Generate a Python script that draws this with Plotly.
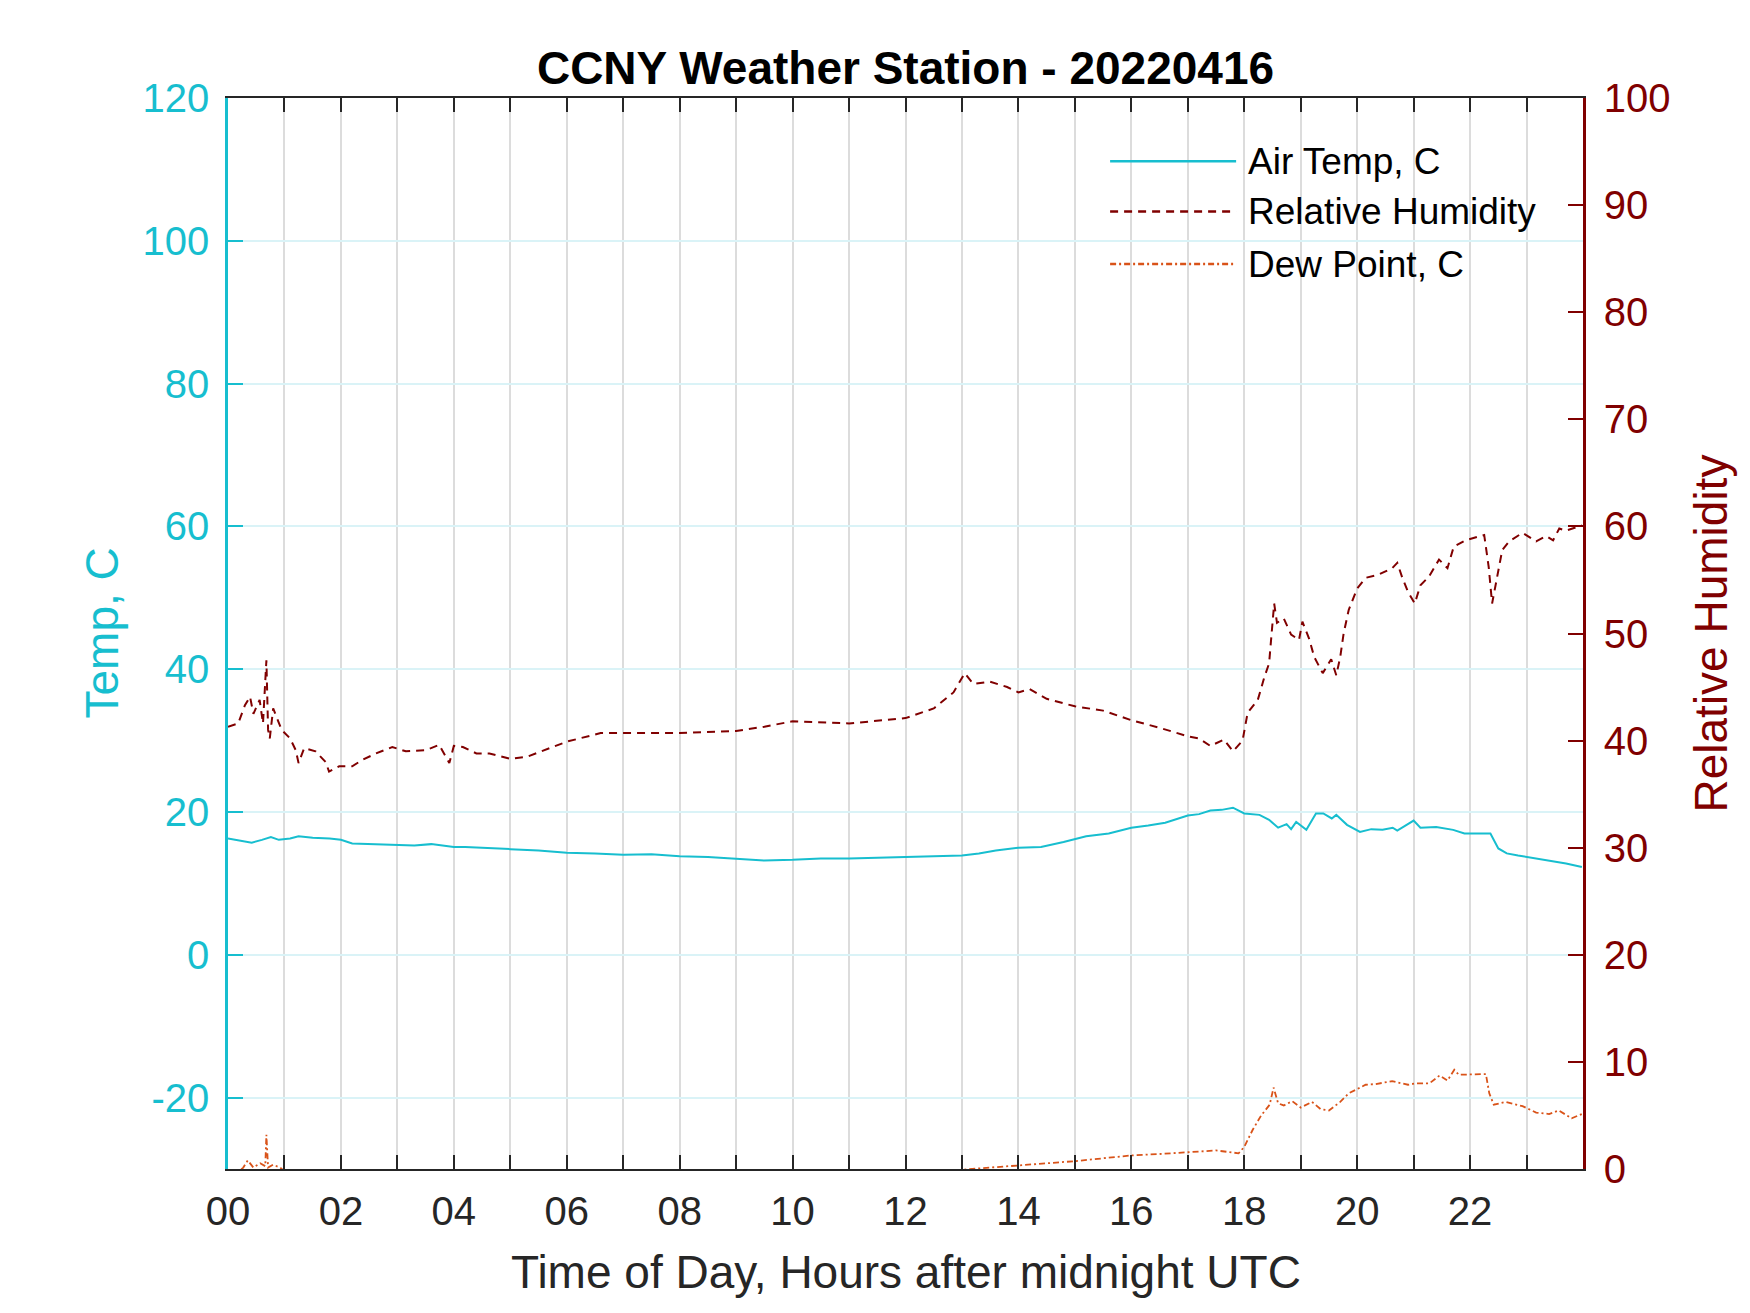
import plotly.graph_objects as go

# --- data (hours after midnight UTC) ---
temp_hours = [0.0, 0.2, 0.42, 0.6, 0.76, 0.9, 1.1, 1.25, 1.5, 1.8, 2.0, 2.2, 2.6,
              3.0, 3.3, 3.6, 4.0, 4.2, 4.6, 5.0, 5.5, 6.0, 6.5, 7.0, 7.5, 8.0, 8.5,
              9.0, 9.5, 10.0, 10.5, 11.0, 11.5, 12.0, 12.5, 13.0, 13.3, 13.6, 14.0,
              14.4, 14.8, 15.2, 15.6, 16.0, 16.3, 16.6, 17.0, 17.2, 17.4, 17.6, 17.8,
              18.0, 18.27, 18.44, 18.6, 18.75, 18.83, 18.92, 19.1, 19.27, 19.4, 19.5,
              19.55, 19.63, 19.7, 19.82, 20.05, 20.25, 20.45, 20.63, 20.71, 20.85,
              21.0, 21.12, 21.4, 21.7, 21.9, 22.1, 22.36, 22.5, 22.65, 22.85, 23.05,
              23.35, 23.7, 23.98]
air_temp = [16.3, 16.0, 15.7, 16.1, 16.5, 16.1, 16.3, 16.6, 16.4, 16.3, 16.1, 15.6, 15.5,
            15.4, 15.3, 15.5, 15.1, 15.1, 14.9, 14.8, 14.6, 14.3, 14.2, 14.0, 14.1, 13.8, 13.7,
            13.5, 13.2, 13.3, 13.5, 13.5, 13.6, 13.7, 13.9, 13.9, 14.2, 14.6, 15.0,
            15.1, 15.8, 16.6, 17.0, 17.8, 18.1, 18.5, 19.5, 19.7, 20.2, 20.3, 20.6,
            19.8, 19.6, 18.9, 17.8, 18.3, 17.6, 18.6, 17.5, 19.8, 19.8, 19.3,
            19.1, 19.6, 19.1, 18.2, 17.2, 17.6, 17.5, 17.8, 17.4, 18.1,
            18.8, 17.8, 17.9, 17.5, 17.0, 17.0, 17.0, 14.9, 14.2, 13.9, 13.65,
            13.3, 12.8, 12.3]

rh_hours = [0.0, 0.18, 0.3, 0.39, 0.45, 0.56, 0.62, 0.68, 0.71, 0.74, 0.8, 0.86, 0.95,
            1.1, 1.2, 1.25, 1.35, 1.55, 1.73, 1.79, 1.97, 2.2, 2.38, 2.62, 2.91, 3.15,
            3.5, 3.74, 3.92, 4.0, 4.16, 4.4, 4.63, 5.0, 5.3, 5.7, 6.0, 6.6, 7.0, 8.0,
            9.0, 9.5, 10.0, 11.0, 12.0, 12.5, 12.85, 13.05, 13.2, 13.5, 13.8, 14.0,
            14.2, 14.5, 15.0, 15.5, 16.0, 16.5, 17.0, 17.2, 17.4, 17.64, 17.8, 17.97,
            18.06, 18.24, 18.36, 18.44, 18.53, 18.58, 18.7, 18.83, 18.97, 19.03, 19.15,
            19.24, 19.39, 19.54, 19.63, 19.7, 19.76, 19.85, 20.0, 20.15, 20.38, 20.62,
            20.71, 20.8, 20.9, 21.02, 21.12, 21.27, 21.45, 21.6, 21.71, 21.92, 22.25,
            22.33, 22.39, 22.48, 22.57, 22.69, 22.93, 23.17, 23.35, 23.47, 23.58, 23.7,
            23.98]
rel_humidity = [41.3, 41.6, 43.3, 44.1, 42.5, 43.8, 41.6, 47.5, 41.0, 40.2, 43.0, 42.2, 41.0,
                40.2, 39.1, 37.9, 39.3, 39.0, 38.0, 37.1, 37.6, 37.6, 38.2, 38.8, 39.4, 39.0,
                39.1, 39.6, 37.9, 39.5, 39.4, 38.8, 38.8, 38.3, 38.5, 39.3, 39.9, 40.7, 40.7, 40.7,
                40.9, 41.3, 41.8, 41.6, 42.1, 43.0, 44.5, 46.3, 45.3, 45.5, 45.0, 44.5,
                44.8, 43.9, 43.2, 42.8, 41.9, 41.2, 40.4, 40.2, 39.5, 40.1, 39.0, 40.0,
                42.6, 43.8, 46.0, 47.2, 52.8, 51.0, 51.4, 49.9, 49.4, 51.1, 49.5,
                47.8, 46.3, 47.6, 46.1, 47.8, 50.0, 52.2, 54.2, 55.2, 55.5, 56.1,
                56.6, 55.2, 53.9, 52.8, 54.5, 55.3, 56.9, 56.1, 58.1, 58.7, 59.2,
                56.2, 52.8, 55.3, 57.8, 58.6, 59.4, 58.6, 59.1, 58.7, 59.8, 59.6,
                60.1]

# dew point is below the axis floor between ~01h and ~13h (not drawn)
dew_hours = [0.0, 0.2, 0.27, 0.35, 0.45, 0.57, 0.66, 0.68, 0.71, 0.8, 0.92, 1.05, 1.1,
             12.9, 13.0, 13.5, 14.0, 14.5, 15.0, 15.5, 16.0, 16.5, 17.0, 17.5, 17.9,
             18.0, 18.15, 18.3, 18.45, 18.52, 18.6, 18.7, 18.85, 19.0, 19.2, 19.35,
             19.5, 19.7, 19.85, 20.15, 20.33, 20.62, 20.9, 21.04, 21.28, 21.46, 21.6,
             21.72, 21.8, 22.1, 22.28, 22.34, 22.42, 22.63, 22.93, 23.17, 23.4, 23.57,
             23.8, 23.98]
dew_point = [-30.5, -30.3, -29.8, -28.8, -29.8, -29.2, -29.6, -25.2, -29.8, -29.4, -29.8, -30.6, None,
             -30.6, -30.1, -29.8, -29.5, -29.3, -28.9, -28.5, -28.1, -27.9, -27.6, -27.4, -27.8,
             -26.9, -24.5, -22.5, -21.0, -18.6, -20.8, -21.1, -20.5, -21.4, -20.6, -21.6,
             -21.8, -20.6, -19.4, -18.2, -18.1, -17.7, -18.2, -18.0, -18.0, -16.9, -17.6,
             -16.1, -16.8, -16.7, -16.7, -19.4, -21.0, -20.6, -21.2, -22.1, -22.3, -21.8,
             -22.9, -22.3]

hour_ticks = list(range(24))
hour_labels = ["00", "", "02", "", "04", "", "06", "", "08", "", "10", "", "12", "",
               "14", "", "16", "", "18", "", "20", "", "22", ""]
temp_ticks = [-20, 0, 20, 40, 60, 80, 100, 120]
temp_labels = ["-20", "0", "20", "40", "60", "80", "100", "120"]
rh_ticks = [0, 10, 20, 30, 40, 50, 60, 70, 80, 90, 100]

series_names = ["Air Temp, C", "Relative Humidity", "Dew Point, C"]

# --- styles ---
FONT = "Liberation Sans, Arial, Helvetica, sans-serif"
CYAN = "#17BECF"
MAROON = "#800000"
ORANGE = "#D95319"
DARK = "#262626"
RH_DASH = "8px,6px"
DEW_DASH = "6px,3px,2px,3px"

fig = go.Figure()

fig.add_trace(go.Scatter(x=temp_hours, y=air_temp, mode="lines",
                         line=dict(color=CYAN, width=2), name=series_names[0],
                         yaxis="y"))
fig.add_trace(go.Scatter(x=dew_hours, y=dew_point, mode="lines",
                         line=dict(color=ORANGE, width=1.8, dash=DEW_DASH),
                         name=series_names[2], connectgaps=False, yaxis="y"))
fig.add_trace(go.Scatter(x=rh_hours, y=rel_humidity, mode="lines",
                         line=dict(color=MAROON, width=2, dash=RH_DASH),
                         name=series_names[1], yaxis="y2"))

# hand-made legend (long line samples like the original)
legend_styles = [(CYAN, "solid"), (MAROON, RH_DASH), (ORANGE, DEW_DASH)]
legend_rows = [0.941, 0.894, 0.845]
for name, (color, dash), yy in zip(series_names, legend_styles, legend_rows):
    fig.add_shape(type="line", xref="paper", yref="paper",
                  x0=0.651, x1=0.744, y0=yy, y1=yy,
                  line=dict(color=color, width=2.5, dash=dash))
    fig.add_annotation(x=0.751, y=yy, xref="paper", yref="paper",
                       text=name, showarrow=False, xanchor="left", yanchor="middle",
                       font=dict(family=FONT, size=37, color="black"))

# axis titles
fig.add_annotation(x=0, y=0.5, xref="paper", yref="paper", xshift=-127,
                   text="Temp, C", textangle=-90, showarrow=False,
                   xanchor="center", yanchor="middle",
                   font=dict(family=FONT, size=46, color=CYAN))
fig.add_annotation(x=1, y=0.5, xref="paper", yref="paper", xshift=127,
                   text="Relative Humidity", textangle=-90, showarrow=False,
                   xanchor="center", yanchor="middle",
                   font=dict(family=FONT, size=46, color=MAROON))
fig.add_annotation(x=0.5, y=0, xref="paper", yref="paper", yshift=-103,
                   text="Time of Day, Hours after midnight UTC", showarrow=False,
                   xanchor="center", yanchor="middle",
                   font=dict(family=FONT, size=46, color=DARK))

fig.update_layout(
    width=1750, height=1313,
    margin=dict(l=220, r=175, t=90, b=152),
    paper_bgcolor="white", plot_bgcolor="white",
    showlegend=False,
    title=dict(text="CCNY Weather Station - 20220416", x=0.5, xref="paper",
               y=1 - 60 / 1313, yref="container", xanchor="center", yanchor="middle",
               font=dict(family=FONT, size=46, color="black", weight="bold")),
    xaxis=dict(range=[0, 24], tickvals=hour_ticks, ticktext=hour_labels,
               ticks="inside", ticklen=14, tickwidth=2, tickcolor=DARK,
               showline=True, linecolor=DARK, linewidth=2, mirror="ticks",
               showgrid=True, gridcolor="#DCDCDC", gridwidth=2, zeroline=False,
               ticklabelstandoff=6,
               tickfont=dict(family=FONT, size=40, color=DARK)),
    yaxis=dict(range=[-30, 120], tickvals=temp_ticks, ticktext=temp_labels,
               ticks="inside", ticklen=15, tickwidth=2, tickcolor=CYAN,
               showline=True, linecolor=CYAN, linewidth=2.5,
               showgrid=True, gridcolor="#DAF3F7", gridwidth=2, zeroline=False,
               ticklabelstandoff=8,
               tickfont=dict(family=FONT, size=40, color=CYAN)),
    yaxis2=dict(range=[0, 100], tickvals=rh_ticks, overlaying="y", side="right",
                ticks="inside", ticklen=15, tickwidth=2, tickcolor=MAROON,
                showline=True, linecolor=MAROON, linewidth=2.5,
                showgrid=False, zeroline=False,
                ticklabelstandoff=10,
                tickfont=dict(family=FONT, size=40, color=MAROON)),
)

fig.write_html("out.html")
